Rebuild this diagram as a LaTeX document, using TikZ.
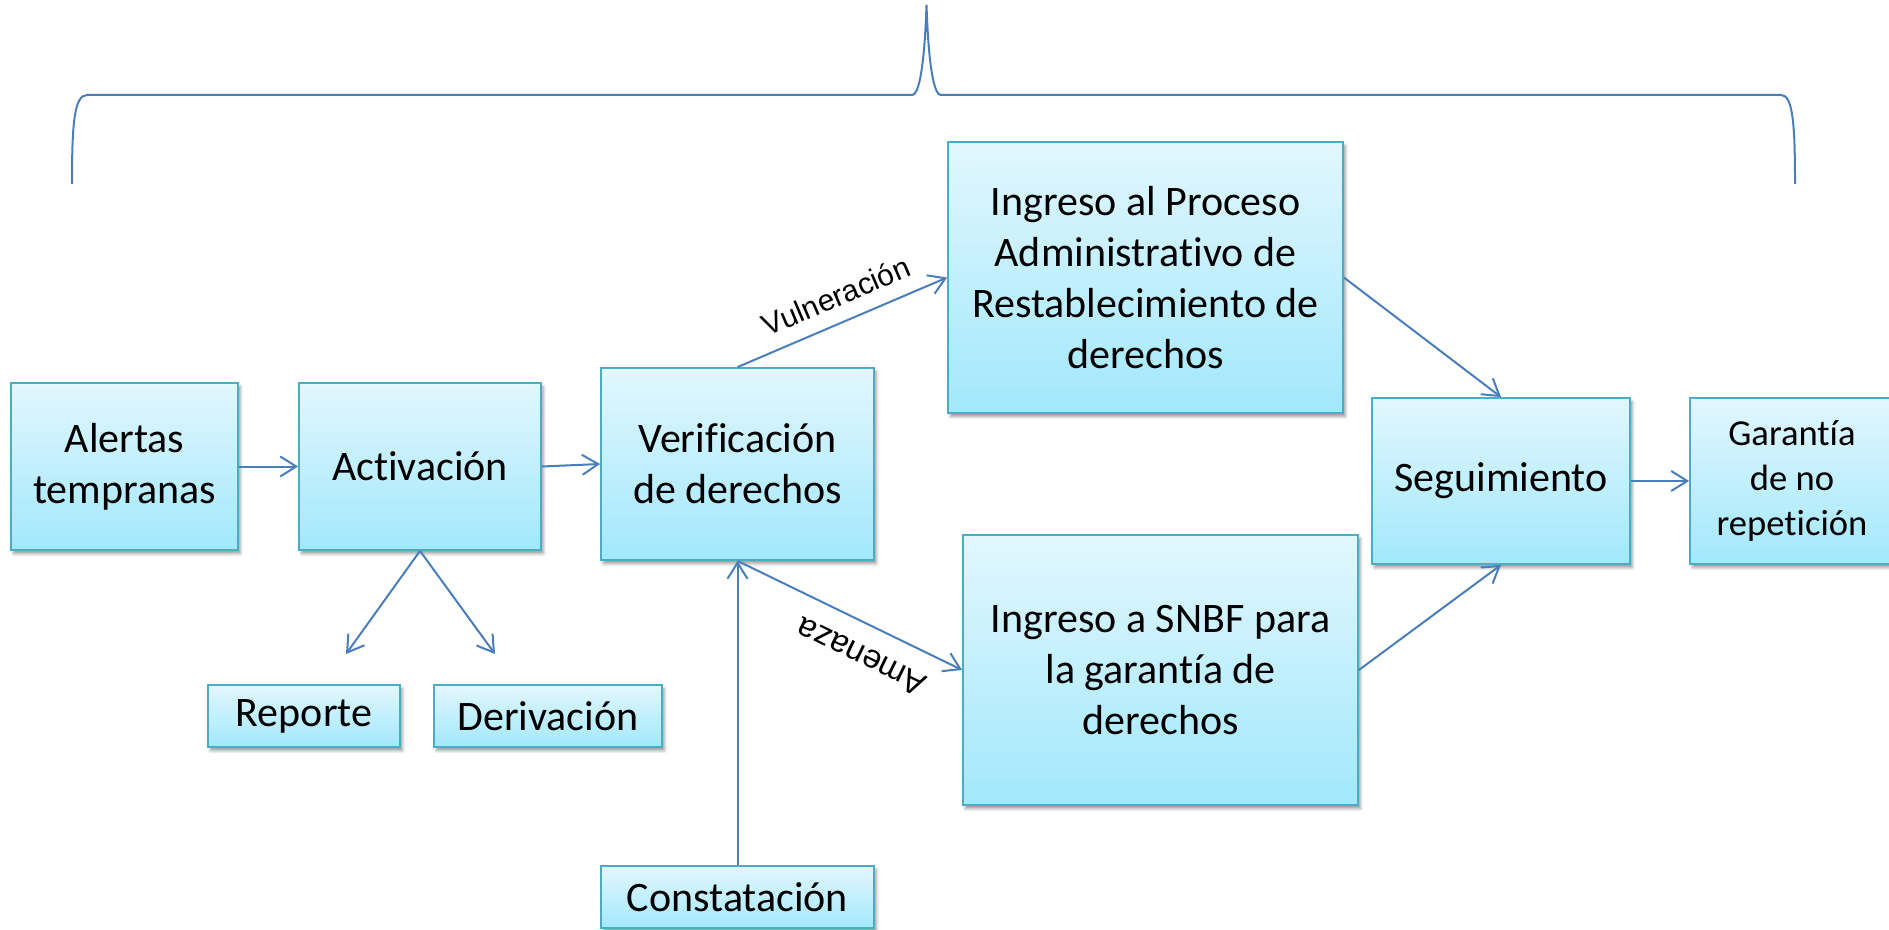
\documentclass[tikz,border=0pt]{standalone}
\usepackage{fontspec}
\setmainfont{Carlito}[Ligatures=NoCommon]
\newfontfamily\arialf{Liberation Sans}
\usetikzlibrary{arrows.meta,shadows.blur}
\definecolor{linec}{HTML}{4A7EBB}
\definecolor{boxedge}{HTML}{4BACC6}
\definecolor{boxtop}{HTML}{E2F7FE}
\definecolor{boxbot}{HTML}{A2E8FC}
\begin{document}
\begin{tikzpicture}[x=0.5pt,y=-0.5pt,
  box/.style={draw=boxedge, line width=0.9pt, top color=boxtop, bottom color=boxbot,
    inner sep=0pt, align=center, font=\fontsize{21}{25.4}\selectfont,
    blur shadow={shadow xshift=1.2pt, shadow yshift=-1.8pt, shadow blur radius=1.5pt, shadow opacity=40}},
  conn/.style={draw=linec, line width=1pt, -{Straight Barb[length=8pt,width=10pt]}},
  lbl/.style={font=\arialf\fontsize{15}{18}\selectfont, inner sep=0pt},
  brace/.style={draw=linec, line width=1pt}
]
\useasboundingbox (0,0) rectangle (1889,930);

\node[box, minimum width=113.5pt, minimum height=83.5pt] (alert) at (124.5,466.5) {Alertas\\tempranas};
\node[box, minimum width=121pt, minimum height=83.5pt] (activ) at (420,466.5) {Activación};
\node[box, minimum width=136.5pt, minimum height=96pt] (verif) at (737.5,464) {Verificación\\de derechos};
\node[box, minimum width=197.5pt, minimum height=135.5pt] (pard) at (1145.5,277.5) {Ingreso al Proceso\\Administrativo de\\Restablecimiento de\\derechos};
\node[box, minimum width=197.5pt, minimum height=135pt] (snbf) at (1160.5,670) {Ingreso a SNBF para\\la garantía de\\derechos};
\node[box, minimum width=129pt, minimum height=83pt] (segui) at (1501,481) {Seguimiento};
\node[box, minimum width=102pt, minimum height=83pt, font=\fontsize{18.3}{22.4}\selectfont] (garan) at (1792,481) {Garantía\\de no\\repetición};
\node[box, minimum width=96pt, minimum height=31pt] (report) at (304,716) {Reporte};
\node[box, minimum width=114pt, minimum height=31pt] (deriv) at (548,716) {Derivación};
\node[box, minimum width=136.5pt, minimum height=31pt] (const) at (737.5,897) {Constatación};

\coordinate (rtip) at (346,654);
\coordinate (dtip) at (495,654);

\draw[conn] (alert.east) -- (activ.west);
\draw[conn] (activ.east) -- (verif.west);
\draw[conn] (activ.south) -- (rtip);
\draw[conn] (activ.south) -- (dtip);
\draw[conn] (verif.north) -- (pard.west);
\draw[conn] (verif.south) -- (snbf.west);
\draw[conn] (const.north) -- (verif.south);
\draw[conn] (pard.east) -- (segui.north);
\draw[conn] (snbf.east) -- (segui.south);
\draw[conn] (segui.east) -- (garan.west);

\node[lbl, rotate=23.1] (vul) at (836,296) {Vulneración};
\node[lbl, rotate=154, font=\arialf\fontsize{16.5}{19}\selectfont] (ame) at (861,657) {Amenaza};

\draw[brace] (72,184) .. controls (72,125) and (74,95) .. (87,95) -- (912,95)
  .. controls (921,95) and (925,50) .. (926.5,5)
  .. controls (928,50) and (932,95) .. (941,95) -- (1781,95)
  .. controls (1793,95) and (1795,125) .. (1795,184);
\end{tikzpicture}
\end{document}
